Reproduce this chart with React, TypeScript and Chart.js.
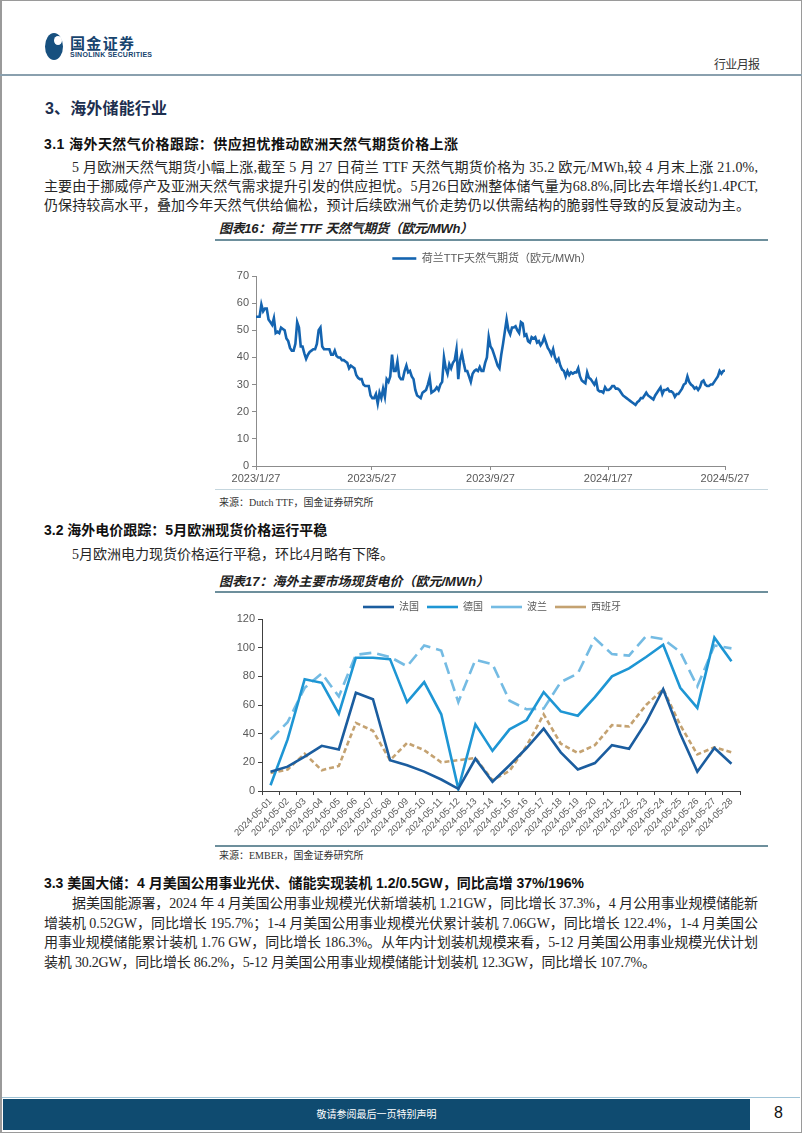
import React, { useEffect, useLayoutEffect, useRef } from "react";
import { Chart, registerables } from "chart.js";

Chart.register(...registerables);
Chart.defaults.font.family = "'Liberation Sans', 'Noto Sans CJK SC', sans-serif";

// ---------- Chart 16: TTF ----------
const TTF_LABEL = "荷兰TTF天然气期货（欧元/MWh）";
const TTF_SPAN_DAYS = 486;
const TTF_TICK_DAYS = [0, 120, 243, 365, 486];
const TTF_TICK_LABELS = ["2023/1/27", "2023/5/27", "2023/9/27", "2024/1/27", "2024/5/27"];
const TTF_VALUES = [
  55, 55, 55, 59.5, 57, 58, 58, 54, 53, 52,
  54.5, 49, 49.5, 49, 51, 50.5, 50, 47, 46, 43.5,
  42.5, 42.5, 45, 53, 51, 44, 44, 41.5, 39.5, 41,
  42, 42.5, 43, 43, 45, 50, 51, 44, 43, 43,
  43, 43, 41, 41, 42.5, 40.5, 40, 40, 39, 39,
  38.5, 38, 36, 37, 36.5, 36, 33.5, 32.5, 32, 32,
  30, 29.5, 29.5, 29.5, 26, 25, 25, 26.5, 23, 27,
  25, 28.5, 25.5, 32, 31, 33, 41, 35, 35, 38.5,
  33, 32, 32, 35, 37, 34.5, 35, 33, 32, 28,
  26, 25.5, 25, 27, 27.5, 28, 30, 32.5, 27, 27.5,
  28, 29, 28, 30, 31, 40, 36, 34, 37.5, 36,
  38, 39, 43, 32, 39, 41.5, 38, 35, 35, 33,
  31, 34, 35, 35.5, 35, 36.5, 35, 35, 38, 40,
  47.5, 44, 43, 41, 39, 37, 36, 41, 45, 49.5,
  54, 50, 48.5, 51, 51, 51.5, 50, 49, 53, 52.5,
  48, 48.5, 46, 45.5, 47.5, 47, 47.5, 45.5, 46, 44.5,
  45.5, 47.5, 45.5, 43.5, 42.5, 41, 43, 40, 38.5, 39.5,
  37, 35.5, 35, 33, 35, 33.5, 34.5, 34, 34.5, 34.5,
  36, 33, 31.5, 31, 30.5, 34.5, 32.5, 32, 31, 30,
  31.5, 28, 27.5, 27.5, 27, 29, 28, 28, 28.5, 29.5,
  29.5, 28.5, 28.5, 28, 27, 26, 25.5, 25, 24.5, 24,
  23.5, 23, 22.5, 23.5, 24, 25, 25, 26, 27, 26,
  25.5, 25, 24.5, 26, 27, 28, 29, 26.5, 28, 28,
  28.5, 27.5, 27.5, 27, 25.5, 26.5, 26.5, 27.5, 28.5, 30,
  30.5, 33, 31, 30, 29.5, 28.5, 29, 28, 29, 31,
  31.5, 30, 29.5, 29.5, 30, 30, 31, 32, 33, 35,
  34, 35, 35.2,
];

// ---------- Chart 17: power prices ----------
const POWER_DATES = [
  "2024-05-01", "2024-05-02", "2024-05-03", "2024-05-04", "2024-05-05", "2024-05-06", "2024-05-07",
  "2024-05-08", "2024-05-09", "2024-05-10", "2024-05-11", "2024-05-12", "2024-05-13", "2024-05-14",
  "2024-05-15", "2024-05-16", "2024-05-17", "2024-05-18", "2024-05-19", "2024-05-20", "2024-05-21",
  "2024-05-22", "2024-05-23", "2024-05-24", "2024-05-25", "2024-05-26", "2024-05-27", "2024-05-28",
];
const POWER_NAMES = ["法国", "德国", "波兰", "西班牙"];
const FRANCE = [13.5, 17, 24, 31.5, 29, 68.5, 64, 21.5, 18, 13.5, 8, 1.5, 22.5, 6.5, 18, 30, 43.5, 27, 15, 19.5, 32, 29.5, 48, 71, 40, 13.5, 30, 19];
const GERMANY = [4, 36, 78, 75.5, 54, 93, 93, 92, 62, 76, 53.5, 1.5, 46.5, 28, 43, 49.5, 69, 55.5, 52.5, 65.5, 80, 85.5, 93.5, 102, 72, 58, 107, 90.5];
const POLAND = [36, 48, 72, 82, 66, 95, 96.5, 93.5, 87, 101.5, 98, 62, 91.5, 88.5, 63, 57, 57.5, 76, 82, 106.5, 95.5, 94.5, 108, 106, 97, 73, 101.5, 99.5];
const SPAIN = [12.5, 15, 26, 14.5, 17.5, 47.5, 42, 21.5, 33.5, 28.5, 20, 21.5, 23, 7.5, 14, 31.5, 53.5, 33, 26.5, 32, 46, 45, 60, 71, 46, 25.5, 30.5, 27];

const legendHeightPlugin = (h: number) => ({
  id: "legendHeight",
  afterInit(chart: any) {
    const lg = chart.legend;
    if (!lg) return;
    const orig = lg.fit.bind(lg);
    lg.fit = function () {
      orig();
      lg.height = h;
    };
  },
});

const padAxis = (w: number) => ({
  type: "linear",
  position: "right",
  display: true,
  grid: { display: false },
  border: { display: false },
  ticks: { display: false },
  afterFit: (s: any) => { s.width = w; },
});

function ttfConfig(): any {
  const n = TTF_VALUES.length;
  return {
    type: "line",
    data: {
      datasets: [{
        label: TTF_LABEL,
        data: TTF_VALUES.map((v, i) => ({ x: (i * TTF_SPAN_DAYS) / (n - 1), y: v })),
        borderColor: "#1464b0",
        backgroundColor: "#1464b0",
        borderWidth: 2.6,
        pointRadius: 0,
        tension: 0,
        fill: false,
      }],
    },
    options: {
      animation: false,
      responsive: false,
      devicePixelRatio: 1,
      layout: { padding: { top: 0, left: 0, right: 0, bottom: 0 } },
      plugins: {
        legend: {
          display: true,
          position: "top",
          labels: {
            usePointStyle: true,
            pointStyle: "line",
            pointStyleWidth: 24,
            color: "#595959",
            font: { size: 11 },
            padding: 10,
          },
        },
        tooltip: { enabled: false },
      },
      scales: {
        x: {
          type: "linear",
          min: 0,
          max: TTF_SPAN_DAYS,
          afterBuildTicks: (s: any) => { s.ticks = TTF_TICK_DAYS.map((v) => ({ value: v })); },
          afterFit: (s: any) => { s.height = 22; },
          grid: { drawOnChartArea: false, drawTicks: true, tickLength: 4, color: "#8c8c8c" },
          border: { color: "#8c8c8c", width: 1 },
          ticks: {
            autoSkip: false,
            maxRotation: 0,
            padding: 2,
            color: "#595959",
            font: { size: 11 },
            callback: (v: any) => {
              const k = TTF_TICK_DAYS.indexOf(v);
              return k >= 0 ? TTF_TICK_LABELS[k] : "";
            },
          },
        },
        y: {
          min: 0,
          max: 70,
          afterFit: (s: any) => { s.width = 40; },
          grid: { drawOnChartArea: false, drawTicks: true, tickLength: 4, color: "#8c8c8c" },
          border: { color: "#8c8c8c", width: 1 },
          ticks: { stepSize: 10, padding: 3, color: "#595959", font: { size: 11 } },
        },
        pad: padAxis(43),
      },
    },
    plugins: [legendHeightPlugin(33)],
  };
}

function powerConfig(): any {
  const series = [FRANCE, GERMANY, POLAND, SPAIN];
  const colors = ["#1b5d9f", "#1e96d4", "#74bbe3", "#c4a271"];
  const dashes = [[], [], [12, 6], [5, 3]];
  const widths = [2.6, 2.6, 2.6, 2.6];
  return {
    type: "line",
    data: {
      labels: POWER_DATES,
      datasets: series.map((d, i) => ({
        label: POWER_NAMES[i],
        data: d,
        borderColor: colors[i],
        backgroundColor: colors[i],
        borderDash: dashes[i],
        borderWidth: widths[i],
        pointRadius: 0,
        tension: 0,
        fill: false,
      })),
    },
    options: {
      animation: false,
      responsive: false,
      devicePixelRatio: 1,
      layout: { padding: 0 },
      plugins: {
        legend: {
          display: true,
          position: "top",
          labels: {
            usePointStyle: true,
            pointStyleWidth: 31,
            pointStyle: "line",
            color: "#595959",
            font: { size: 10 },
            padding: 8,
          },
        },
        tooltip: { enabled: false },
      },
      scales: {
        x: {
          type: "category",
          offset: true,
          afterFit: (s: any) => { s.height = 53; },
          grid: { offset: true, drawOnChartArea: false, drawTicks: true, tickLength: 4, color: "#404040" },
          border: { color: "#404040", width: 1 },
          ticks: {
            autoSkip: false,
            minRotation: 45,
            maxRotation: 45,
            padding: 1,
            color: "#595959",
            font: { size: 9.5 },
          },
        },
        y: {
          min: 0,
          max: 120,
          afterFit: (s: any) => { s.width = 46; },
          grid: { drawOnChartArea: false, drawTicks: true, tickLength: 4, color: "#404040" },
          border: { color: "#404040", width: 1 },
          ticks: { stepSize: 20, padding: 3, color: "#595959", font: { size: 11 } },
        },
        pad: padAxis(28),
      },
    },
    plugins: [legendHeightPlugin(25)],
  };
}

function ChartBox(props: { left: number; top: number; width: number; height: number; make: () => any }) {
  const ref = useRef<HTMLCanvasElement>(null);
  useEffect(() => {
    const c = new Chart(ref.current as HTMLCanvasElement, props.make());
    return () => c.destroy();
  }, []);
  return (
    <canvas
      ref={ref}
      width={props.width}
      height={props.height}
      style={{ position: "absolute", left: props.left, top: props.top, width: props.width, height: props.height }}
    />
  );
}

const BODY_FONT = "'Liberation Serif', 'Noto Sans CJK SC', serif";
const HEAD_FONT = "'Liberation Sans', 'Noto Sans CJK SC', sans-serif";

function TLine(props: {
  x: number; y: number; w?: number; size: number; text: string;
  bold?: boolean; italic?: boolean; color?: string; family?: string; lh?: number;
}) {
  const ref = useRef<HTMLDivElement>(null);
  const lh = props.lh ?? Math.round(props.size * 1.4);
  useLayoutEffect(() => {
    const el = ref.current;
    if (!el || !props.w) return;
    const fit = () => {
      el.style.letterSpacing = "0px";
      const nat = el.getBoundingClientRect().width;
      const n = Array.from(props.text).length;
      if (n > 1) el.style.letterSpacing = ((props.w as number) - nat) / (n - 1) + "px";
    };
    fit();
    const f: any = (document as any).fonts;
    if (f && f.ready) f.ready.then(fit);
  }, [props.w, props.text]);
  return (
    <div
      ref={ref}
      style={{
        position: "absolute",
        left: props.x,
        top: props.y - lh / 2,
        whiteSpace: "nowrap",
        fontSize: props.size,
        lineHeight: lh + "px",
        fontWeight: props.bold ? 700 : 400,
        fontStyle: props.italic ? "italic" : "normal",
        color: props.color ?? "#262626",
        fontFamily: props.family ?? BODY_FONT,
      }}
    >
      {props.text}
    </div>
  );
}

function Rule(props: { x: number; y: number; w: number; h: number; color: string }) {
  return <div style={{ position: "absolute", left: props.x, top: props.y, width: props.w, height: props.h, background: props.color }} />;
}

export default function App() {
  return (
    <div style={{ position: "absolute", left: 0, top: 0, width: 802, height: 1133, background: "#fff", overflow: "hidden" }}>
      {/* page frame */}
      <div style={{ position: "absolute", left: 0, top: 0, width: 802, height: 1133, boxSizing: "border-box", border: "1px solid #9a9a9a", borderLeftWidth: 2 }} />

      {/* header logo */}
      <div style={{ position: "absolute", left: 45, top: 33, width: 18, height: 27, borderRadius: "50%", background: "#17507f" }} />
      <div style={{ position: "absolute", left: 54, top: 36, width: 8, height: 9, borderRadius: "50%", background: "#fff" }} />
      <TLine x={70} y={43} size={15} text="国金证券" bold color="#17446e" family={HEAD_FONT} w={64} />
      <TLine x={70} y={55} size={7} text="SINOLINK SECURITIES" bold color="#17446e" family={HEAD_FONT} w={82} />
      <TLine x={714} y={65} size={12} text="行业月报" color="#333" w={46} />
      <Rule x={0} y={74} w={802} h={2} color="#8aa0ae" />

      {/* section 3 */}
      <TLine x={45} y={109} size={16} text="3、海外储能行业" bold color="#1d2f4f" family={HEAD_FONT} w={122} />

      <TLine x={44} y={144} size={14} text="3.1 海外天然气价格跟踪：供应担忧推动欧洲天然气期货价格上涨" bold family={HEAD_FONT} w={414} color="#111" />
      <TLine x={72} y={168} size={14} w={686} text="5 月欧洲天然气期货小幅上涨,截至 5 月 27 日荷兰 TTF 天然气期货价格为 35.2 欧元/MWh,较 4 月末上涨 21.0%," />
      <TLine x={44} y={187} size={14} w={714} text="主要由于挪威停产及亚洲天然气需求提升引发的供应担忧。5月26日欧洲整体储气量为68.8%,同比去年增长约1.4PCT," />
      <TLine x={44} y={206} size={14} w={706} text="仍保持较高水平，叠加今年天然气供给偏松，预计后续欧洲气价走势仍以供需结构的脆弱性导致的反复波动为主。" />

      <TLine x={219} y={229} size={13} text="图表16：荷兰 TTF 天然气期货（欧元/MWh）" bold italic family={HEAD_FONT} w={254} color="#222" />
      <Rule x={215} y={239} w={553} h={2} color="#6d8f9c" />
      <ChartBox left={216} top={243} width={552} height={245} make={ttfConfig} />
      <Rule x={215} y={489} w={553} h={1} color="#c5d6de" />
      <TLine x={219} y={503} size={10} text="来源：Dutch TTF，国金证券研究所" color="#333" />

      <TLine x={44} y={530} size={14} text="3.2 海外电价跟踪：5月欧洲现货价格运行平稳" bold family={HEAD_FONT} color="#111" />
      <TLine x={72} y={555} size={14} text="5月欧洲电力现货价格运行平稳，环比4月略有下降。" />

      <TLine x={219} y={582} size={13} text="图表17：海外主要市场现货电价（欧元/MWh）" bold italic family={HEAD_FONT} color="#222" />
      <Rule x={215} y={591} w={553} h={2} color="#6d8f9c" />
      <ChartBox left={216} top={594} width={552} height={250} make={powerConfig} />
      <Rule x={215} y={845} w={553} h={2} color="#6d8f9c" />
      <TLine x={219} y={856} size={10} text="来源：EMBER，国金证券研究所" color="#333" />

      <TLine x={44} y={883} size={14} text="3.3 美国大储：4 月美国公用事业光伏、储能实现装机 1.2/0.5GW，同比高增 37%/196%" bold family={HEAD_FONT} w={540} color="#111" />
      <TLine x={72} y={904} size={14} w={686} text="据美国能源署，2024 年 4 月美国公用事业规模光伏新增装机 1.21GW，同比增长 37.3%，4 月公用事业规模储能新" />
      <TLine x={44} y={923.5} size={14} w={714} text="增装机 0.52GW，同比增长 195.7%；1-4 月美国公用事业规模光伏累计装机 7.06GW，同比增长 122.4%，1-4 月美国公" />
      <TLine x={44} y={943} size={14} w={714} text="用事业规模储能累计装机 1.76 GW，同比增长 186.3%。从年内计划装机规模来看，5-12 月美国公用事业规模光伏计划" />
      <TLine x={44} y={962.5} size={14} w={612} text="装机 30.2GW，同比增长 86.2%，5-12 月美国公用事业规模储能计划装机 12.3GW，同比增长 107.7%。" />

      {/* footer */}
      <Rule x={2} y={1097} w={798} h={1} color="#9fc3d6" />
      <Rule x={3} y={1099} w={747} h={31} color="#0f4b70" />
      <div style={{ position: "absolute", left: 3, top: 1099, width: 747, height: 31, lineHeight: "31px", textAlign: "center", color: "#fff", fontSize: 10, fontFamily: BODY_FONT }}>
        敬请参阅最后一页特别声明
      </div>
      <div style={{ position: "absolute", left: 774, top: 1103, fontSize: 16, lineHeight: "20px", color: "#111", fontFamily: HEAD_FONT }}>8</div>
    </div>
  );
}
